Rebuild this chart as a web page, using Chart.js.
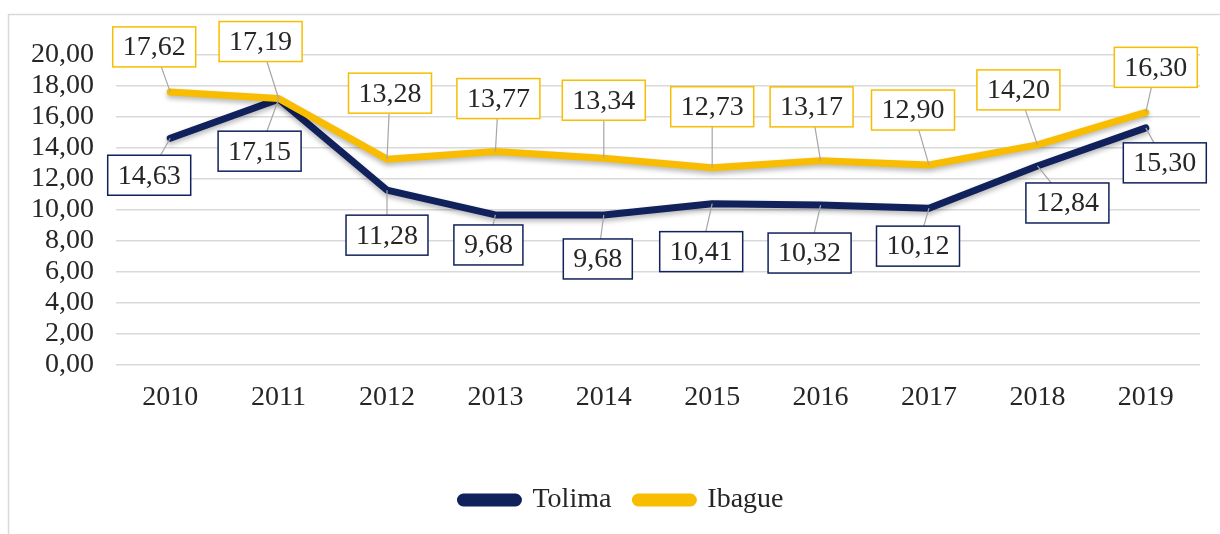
<!DOCTYPE html>
<html>
<head>
<meta charset="utf-8">
<script src="https://cdn.jsdelivr.net/npm/chart.js@4.4.0/dist/chart.umd.min.js"></script>
<style>
  html, body { margin: 0; padding: 0; background: #fff; }
  #wrap { width: 1220px; height: 534px; }
</style>
</head>
<body>
<div id="wrap"><canvas id="lineChart"></canvas></div>
<script>
// years and values
var years = ["2010", "2011", "2012", "2013", "2014", "2015", "2016", "2017", "2018", "2019"];
var tolima = [14.63, 17.15, 11.28, 9.68, 9.68, 10.41, 10.32, 10.12, 12.84, 15.30];
var ibague = [17.62, 17.19, 13.28, 13.77, 13.34, 12.73, 13.17, 12.90, 14.20, 16.30];
var yTicks = [0, 2, 4, 6, 8, 10, 12, 14, 16, 18, 20];

var navy = "#11215c";
var gold = "#f8bd00";
var serif = "'Liberation Serif', 'Times New Roman', serif";

function fmt(v) {
    return v.toFixed(2).replace('.', ',');
}

// where each callout box sits relative to its point (pixels)
var offsets = {
    0: [[-21, 37], [-19, 52], [0, 45], [-7, 30], [-6, 44], [-11, 48], [-11, 48], [-11, 38], [30, 37], [19, 35]],
    1: [[-16, -45], [-18, -57], [3, -66], [3, -53], [0, -58], [0, -61], [-9, -54], [-16, -55], [-19, -55], [10, -45]]
};

var frame = {
    id: 'frame',
    beforeDraw: function(chart) {
        var c = chart.ctx;
        c.save();
        c.fillStyle = '#fff';
        c.fillRect(0, 0, chart.width, chart.height);
        c.strokeStyle = '#d9d9d9';
        c.lineWidth = 1.5;
        c.strokeRect(8.5, 14.5, chart.width + 20, chart.height + 20);
        c.restore();
    },
    afterLayout: function(chart) {
        // legend sits a little right of the canvas centre
        if (chart.legend) {
            chart.legend.left += 22;
            chart.legend.right += 22;
        }
    }
};

var shadow = {
    id: 'shadow',
    beforeDatasetsDraw: function(chart) {
        var c = chart.ctx;
        c.save();
        c.shadowColor = 'rgba(0,0,0,0.28)';
        c.shadowBlur = 5;
        c.shadowOffsetY = 3;
    },
    afterDatasetsDraw: function(chart) {
        chart.ctx.restore();
    }
};

var callouts = {
    id: 'callouts',
    afterDatasetsDraw: function(chart) {
        var c = chart.ctx;
        c.save();
        c.font = '28px ' + serif;
        c.textAlign = 'center';
        c.textBaseline = 'middle';
        chart.data.datasets.forEach(function(ds, di) {
            var meta = chart.getDatasetMeta(di);
            meta.data.forEach(function(pt, i) {
                var off = offsets[di][i];
                var bx = pt.x + off[0], by = pt.y + off[1];
                var txt = fmt(ds.data[i]);
                var w = c.measureText(txt).width + 20, h = 40;
                // leader line
                c.strokeStyle = '#a6a6a6';
                c.lineWidth = 1.2;
                c.beginPath();
                c.moveTo(pt.x, pt.y);
                c.lineTo(bx, by);
                c.stroke();
                // box
                c.fillStyle = '#fff';
                c.fillRect(bx - w / 2, by - h / 2, w, h);
                c.strokeStyle = ds.borderColor;
                c.lineWidth = 1.5;
                c.strokeRect(bx - w / 2, by - h / 2, w, h);
                c.fillStyle = '#262626';
                c.fillText(txt, bx, by + 1);
            });
        });
        c.restore();
    }
};

var ctx = document.getElementById('lineChart').getContext('2d');
new Chart(ctx, {
    type: 'line',
    data: {
        labels: years,
        datasets: [
            { label: 'Tolima', data: tolima, borderColor: navy, backgroundColor: navy, order: 2 },
            { label: 'Ibague', data: ibague, borderColor: gold, backgroundColor: gold, order: 1 }
        ]
    },
    options: {
        responsive: true,
        maintainAspectRatio: false,
        animation: false,
        elements: {
            line: { borderWidth: 7, tension: 0, borderJoinStyle: 'round', borderCapStyle: 'round' },
            point: { radius: 0, hoverRadius: 0 }
        },
        layout: { padding: { top: 55, right: 20, bottom: 10, left: 0 } },
        scales: {
            x: {
                offset: true,
                grid: { display: false, drawTicks: false },
                border: { display: false },
                ticks: { color: '#262626', font: { family: serif, size: 28 }, padding: 16 },
                afterFit: function(s) { s.height = 97; }
            },
            y: {
                min: 0,
                max: 20,
                afterBuildTicks: function(s) { s.ticks = yTicks.map(function(v) { return { value: v }; }); },
                grid: { color: '#d9d9d9', lineWidth: 1.5, drawTicks: false },
                border: { display: false },
                ticks: {
                    autoSkip: false,
                    color: '#262626',
                    font: { family: serif, size: 28 },
                    padding: 22,
                    callback: function(v) { return fmt(v); }
                },
                afterFit: function(s) { s.width = 116; }
            }
        },
        plugins: {
            legend: {
                position: 'bottom',
                labels: {
                    color: '#262626',
                    font: { family: serif, size: 28 },
                    boxWidth: 58,
                    boxHeight: 6,
                    useBorderRadius: true,
                    borderRadius: 3,
                    padding: 24,
                    sort: function(a, b) { return a.datasetIndex - b.datasetIndex; }
                }
            },
            tooltip: { enabled: false }
        }
    },
    plugins: [frame, shadow, callouts]
});
</script>
</body>
</html>
